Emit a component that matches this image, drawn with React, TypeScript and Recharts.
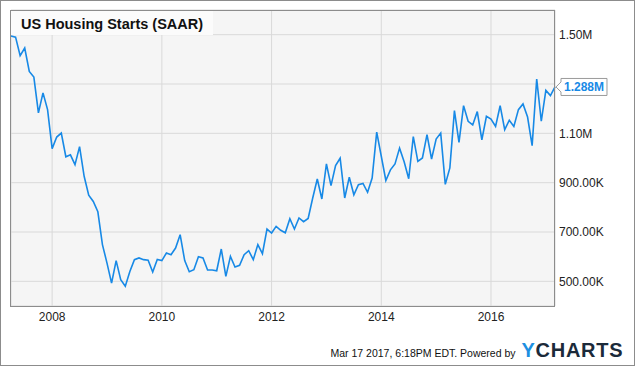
import { LineChart, Line, XAxis, YAxis, CartesianGrid } from "recharts";

// monthly housing starts (thousands, SAAR); 2007 starts in March
const starts2007 = [1495, 1490, 1415, 1446, 1351, 1328, 1183, 1264, 1196, 1038];
const starts2008 = [1085, 1101, 1005, 1013, 973, 1046, 926, 849, 824, 782, 649, 574];
const starts2009 = [493, 584, 507, 480, 540, 588, 595, 588, 586, 538, 589, 584];
const starts2010 = [615, 608, 635, 689, 584, 539, 547, 600, 595, 546, 546, 543];
const starts2011 = [631, 520, 601, 558, 565, 608, 624, 588, 649, 612, 712, 696];
const starts2012 = [723, 707, 697, 754, 712, 757, 742, 755, 838, 915, 834, 976];
const starts2013 = [888, 969, 999, 838, 922, 851, 892, 897, 861, 919, 1105, 1007];
const starts2014 = [909, 952, 976, 1040, 985, 916, 1087, 986, 1000, 1095, 996, 1077];
const starts2015 = [1101, 893, 960, 1192, 1063, 1212, 1149, 1134, 1188, 1074, 1169, 1158];
const starts2016 = [1128, 1212, 1115, 1153, 1128, 1196, 1219, 1166, 1050, 1320, 1149, 1274];
const starts2017 = [1253, 1288];

const yearTicks = [2008, 2010, 2012, 2014, 2016];
const valueTicks = [500000, 700000, 900000, 1100000, 1300000, 1500000];

const allStarts = [
  ...starts2007, ...starts2008, ...starts2009, ...starts2010, ...starts2011,
  ...starts2012, ...starts2013, ...starts2014, ...starts2015, ...starts2016, ...starts2017,
];

// each month's value is stamped on the first day of the following month (Mar 2007 -> Apr 1 2007)
const data = allStarts.map((v, i) => ({ t: 2007.25 + i / 12, v: v * 1000 }));
const lastIdx = data.length - 1;

const BLUE = "#1789e6";
const FONT = '"Liberation Sans", Arial, sans-serif';

function fmtValue(v: number) {
  if (v === 1300000) return ""; // hidden behind the last-value callout
  if (v >= 1000000) return (v / 1000000).toFixed(2) + "M";
  return (v / 1000).toFixed(2) + "K";
}

function LastValue(props: any) {
  const { x, y, index, value } = props;
  if (index !== lastIdx) return null;
  const px = x + 1;
  const d = `M${px},${y} L${px + 5},${y - 5} L${px + 5},${y - 8.5} L${px + 51},${y - 8.5} L${px + 51},${y + 8.5} L${px + 5},${y + 8.5} L${px + 5},${y + 5} Z`;
  return (
    <g>
      <path d={d} fill="#fff" stroke="#9a9a9a" strokeWidth={1} />
      <text x={px + 8} y={y + 4.5} fontSize={12} fontWeight="bold" fill={BLUE} fontFamily={FONT}>
        {(value / 1000000).toFixed(3)}M
      </text>
    </g>
  );
}

export default function App() {
  return (
    <div style={{ position: "absolute", left: 0, top: 0, width: 635, height: 366, background: "#fff" }}>
      <LineChart width={635} height={366} data={data} margin={{ top: 10, right: 0, bottom: 0, left: 11 }}>
        <CartesianGrid stroke="#d9d9d9" fill="#f5f5f5" />
        <XAxis
          dataKey="t"
          type="number"
          domain={[2007.25, 2017.1667]}
          ticks={yearTicks}
          tickFormatter={(v) => String(v)}
          height={60}
          tickSize={4}
          tickMargin={2.5}
          tickLine={false}
          axisLine={false}
          tick={{ fill: "#222", fontSize: 12, fontFamily: FONT }}
        />
        <YAxis
          orientation="right"
          width={80}
          domain={[400000, 1600000]}
          ticks={valueTicks}
          tickFormatter={fmtValue}
          tickSize={2}
          tickMargin={2}
          tickLine={false}
          axisLine={false}
          interval={0}
          tick={{ fill: "#222", fontSize: 12, fontFamily: FONT }}
        />
        <Line
          dataKey="v"
          type="linear"
          stroke={BLUE}
          strokeWidth={1.6}
          dot={false}
          isAnimationActive={false}
          label={<LastValue />}
        />
      </LineChart>
      <svg
        width={635}
        height={366}
        style={{ position: "absolute", left: 0, top: 0, pointerEvents: "none" }}
      >
        <rect x={0.5} y={0.5} width={634} height={365} fill="none" stroke="#8c8c8c" />
        <rect x={10.5} y={10.5} width={544} height={296} fill="none" stroke="#8c8c8c" />
        <rect x={11} y={11} width={202} height={24} fill="#fbfbfb" />
        <text x={21} y={28.5} fontSize={14.5} fontWeight="bold" fill="#111" fontFamily={FONT}>
          US Housing Starts (SAAR)
        </text>
        <text x={330.5} y={356.5} fontSize={10.5} fill="#111" fontFamily={FONT}>
          Mar 17 2017, 6:18PM EDT. Powered by
        </text>
        <text x={521.5} y={356.7} fontSize={20} fontWeight="bold" fontFamily={FONT} textLength={101} lengthAdjust="spacing">
          <tspan fill="#1d8fe1">Y</tspan>
          <tspan fill="#1b2a3a">CHARTS</tspan>
        </text>
      </svg>
    </div>
  );
}
